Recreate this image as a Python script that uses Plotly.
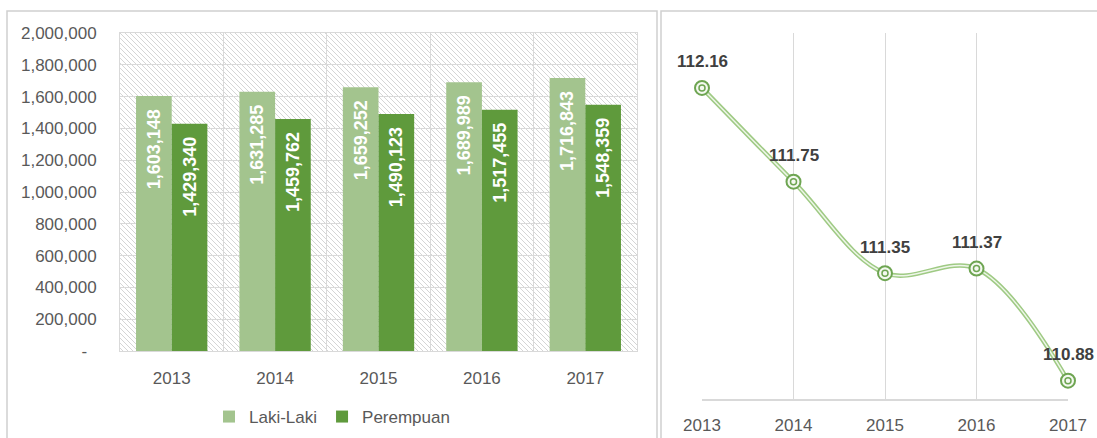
import base64
import plotly.graph_objects as go

# Population by sex, 2013-2017
years = ["2013", "2014", "2015", "2016", "2017"]
laki_laki = [1603148, 1631285, 1659252, 1689989, 1716843]
perempuan = [1429340, 1459762, 1490123, 1517455, 1548359]

# Sex ratio per year
ratio_years = [2013, 2014, 2015, 2016, 2017]
sex_ratio = [112.16, 111.75, 111.35, 111.37, 110.88]

y_tickvals = [0, 200000, 400000, 600000, 800000, 1000000,
              1200000, 1400000, 1600000, 1800000, 2000000]
y_ticktext = ["-\u00a0\u00a0", "200,000", "400,000", "600,000", "800,000", "1,000,000",
              "1,200,000", "1,400,000", "1,600,000", "1,800,000", "2,000,000"]

W, H = 1097, 438
LIGHT_GREEN = "#a3c48e"
DARK_GREEN = "#5f9a3c"
GRID = "#d9d9d9"
TEXT = "#595959"
FONT = "Liberation Sans, Arial, sans-serif"

# plot-area geometry in pixels
L_X0, L_X1, L_Y0, L_Y1 = 120, 637, 33, 351
R_X0, R_X1, R_Y0, R_Y1 = 702, 1068, 33, 399


def px_x(v):
    return v / W


def px_y(v):
    return 1 - v / H


# diagonal hatch used as the bar chart's plot-area background
pw, ph = L_X1 - L_X0, L_Y1 - L_Y0
hatch_svg = (
    f'<svg xmlns="http://www.w3.org/2000/svg" width="{pw}" height="{ph}" '
    f'viewBox="0 0 {pw} {ph}" preserveAspectRatio="none">'
    '<defs><pattern id="h" width="5" height="5" patternUnits="userSpaceOnUse">'
    '<path d="M-1,-1 L6,6 M-1,4 L1,6 M4,-1 L6,1" stroke="#d0d0d0" stroke-width="0.9"/>'
    '</pattern></defs>'
    f'<rect width="{pw}" height="{ph}" fill="white"/>'
    f'<rect width="{pw}" height="{ph}" fill="url(#h)"/></svg>'
)
hatch_uri = "data:image/svg+xml;base64," + base64.b64encode(hatch_svg.encode()).decode()

fig = go.Figure()

label_font = dict(family="Liberation Sans Narrow, Liberation Sans, Arial, sans-serif",
                  size=18, color="white")

fig.add_trace(go.Bar(
    x=years, y=laki_laki, name="Laki-Laki", marker=dict(color=LIGHT_GREEN, line=dict(width=0)),
    texttemplate="<b>%{y:,}</b>\u00a0\u00a0", textposition="inside", textangle=-90,
    insidetextanchor="end", insidetextfont=label_font, constraintext="none",
    xaxis="x", yaxis="y", hoverinfo="skip",
))
fig.add_trace(go.Bar(
    x=years, y=perempuan, name="Perempuan", marker=dict(color=DARK_GREEN, line=dict(width=0)),
    texttemplate="<b>%{y:,}</b>\u00a0\u00a0", textposition="inside", textangle=-90,
    insidetextanchor="end", insidetextfont=label_font, constraintext="none",
    xaxis="x", yaxis="y", hoverinfo="skip",
))

# smoothed double line for the sex ratio
fig.add_trace(go.Scatter(
    x=ratio_years, y=sex_ratio, mode="lines",
    line=dict(color="#9fca84", width=4.5, shape="spline", smoothing=1.0),
    xaxis="x2", yaxis="y2", showlegend=False, cliponaxis=False, hoverinfo="skip",
))
fig.add_trace(go.Scatter(
    x=ratio_years, y=sex_ratio, mode="lines",
    line=dict(color="#eef6e9", width=1.5, shape="spline", smoothing=1.0),
    xaxis="x2", yaxis="y2", showlegend=False, cliponaxis=False, hoverinfo="skip",
))
fig.add_trace(go.Scatter(
    x=ratio_years, y=sex_ratio, mode="markers",
    marker=dict(symbol="circle", size=14, color="#f4f9f0",
                line=dict(color="#6ea552", width=2)),
    xaxis="x2", yaxis="y2", showlegend=False, cliponaxis=False, hoverinfo="skip",
))
fig.add_trace(go.Scatter(
    x=ratio_years, y=sex_ratio, mode="markers",
    marker=dict(symbol="circle-open", size=6, color="#6ea552",
                line=dict(color="#6ea552", width=1.5)),
    xaxis="x2", yaxis="y2", showlegend=False, cliponaxis=False, hoverinfo="skip",
))

annotations = [
    dict(x=yr, y=v, xref="x2", yref="y2", text=f"<b>{v:.2f}</b>", showarrow=False,
         yshift=26, font=dict(family=FONT, size=17, color="#404040"))
    for yr, v in zip(ratio_years, sex_ratio)
]

shapes = [
    # panel frames
    dict(type="rect", xref="paper", yref="paper",
         x0=px_x(7), x1=px_x(657), y0=-0.2, y1=px_y(11),
         line=dict(color="#d0d0d0", width=1.5), layer="below"),
    dict(type="rect", xref="paper", yref="paper",
         x0=px_x(661), x1=1.2, y0=-0.2, y1=px_y(11),
         line=dict(color="#d0d0d0", width=1.5), layer="below"),
]

fig.update_layout(
    width=W, height=H,
    margin=dict(l=0, r=0, t=0, b=0, autoexpand=False),
    paper_bgcolor="white", plot_bgcolor="rgba(0,0,0,0)",
    barmode="group", bargap=0.31, bargroupgap=0,
    font=dict(family=FONT, size=17, color=TEXT),
    xaxis=dict(domain=[px_x(L_X0), px_x(L_X1)], anchor="y", type="category",
               tickson="boundaries", showgrid=True, gridcolor=GRID, gridwidth=1,
               showline=True, linecolor=GRID, linewidth=1, mirror=True,
               ticks="", ticklabelstandoff=12, automargin=False,
               tickfont=dict(size=17, color=TEXT)),
    yaxis=dict(domain=[px_y(L_Y1), px_y(L_Y0)], anchor="x", range=[0, 2000000],
               tickvals=y_tickvals, ticktext=y_ticktext,
               showgrid=True, gridcolor=GRID, gridwidth=1, zeroline=False,
               showline=True, linecolor=GRID, linewidth=1, mirror=True,
               ticks="", ticklabelstandoff=19, automargin=False,
               tickfont=dict(size=17, color=TEXT)),
    xaxis2=dict(domain=[px_x(R_X0), px_x(R_X1)], anchor="y2", range=[2013, 2017],
                tickvals=ratio_years, ticktext=[str(y) for y in ratio_years],
                showgrid=True, gridcolor=GRID, gridwidth=1, zeroline=False,
                showline=True, linecolor=GRID, linewidth=1.5,
                ticks="", ticklabelstandoff=10, automargin=False,
                tickfont=dict(size=17, color=TEXT)),
    yaxis2=dict(domain=[px_y(R_Y1), px_y(R_Y0)], anchor="x2", range=[110.8, 112.4],
                showgrid=False, zeroline=False, showticklabels=False, showline=False,
                automargin=False),
    legend=dict(orientation="h", x=px_x(332), y=px_y(417), xanchor="center", yanchor="middle",
                font=dict(size=17, color=TEXT), bgcolor="rgba(0,0,0,0)",
                traceorder="normal", itemclick=False, itemwidth=30),
    images=[dict(source=hatch_uri, xref="x domain", yref="y domain", x=0, y=1,
                 sizex=1, sizey=1, xanchor="left", yanchor="top",
                 sizing="stretch", layer="below")],
    shapes=shapes,
    annotations=annotations,
)

fig.write_html("out.html")
